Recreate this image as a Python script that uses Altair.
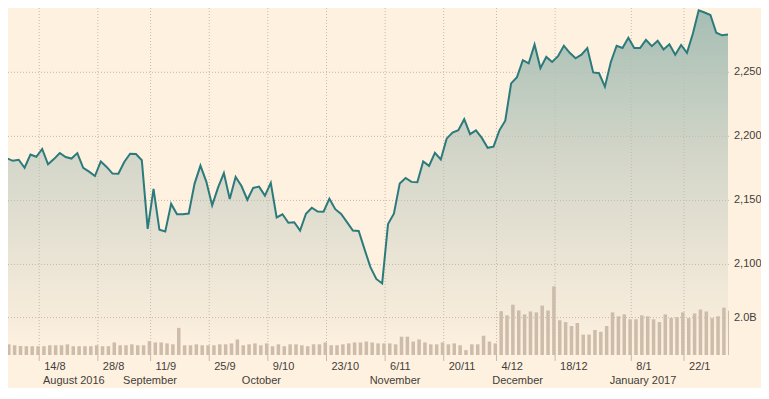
import altair as alt
import pandas as pd

# Daily closes, 5 Aug 2016 .. 1 Feb 2017 (trading days, in order)
close = [
    2182.87, 2180.89, 2181.74, 2175.49, 2185.79, 2184.05, 2190.15, 2178.15, 2182.22, 2187.02,
    2183.87, 2182.64, 2186.90, 2175.44, 2172.47, 2169.04, 2180.38, 2176.12, 2170.95, 2170.86,
    2179.98, 2186.48, 2186.16, 2181.30, 2127.81, 2159.04, 2127.02, 2125.77, 2147.26, 2139.16,
    2139.12, 2139.76, 2163.12, 2177.18, 2164.69, 2146.10, 2159.93, 2171.37, 2151.13, 2168.27,
    2161.20, 2150.49, 2159.73, 2160.77, 2153.74, 2163.66, 2136.73, 2139.18, 2132.55, 2132.98,
    2126.50, 2139.60, 2144.29, 2141.34, 2141.16, 2151.33, 2143.16, 2139.43, 2133.04, 2126.41,
    2126.15, 2111.72, 2097.94, 2088.66, 2085.18, 2131.52, 2139.56, 2163.26, 2167.48, 2164.45,
    2164.20, 2180.39, 2176.94, 2187.12, 2181.90, 2198.18, 2202.94, 2204.72, 2213.35, 2201.72,
    2204.66, 2198.81, 2191.08, 2191.95, 2204.71, 2212.23, 2241.35, 2246.19, 2259.53, 2256.96,
    2271.72, 2253.28, 2262.03, 2258.07, 2262.53, 2270.76, 2265.18, 2260.96, 2263.79, 2268.88,
    2249.92, 2249.26, 2238.83, 2257.83, 2270.75, 2269.00, 2276.98, 2268.90, 2268.90, 2275.32,
    2270.44, 2274.64, 2267.89, 2271.89, 2263.69, 2271.31, 2265.20, 2280.07, 2298.37, 2296.68,
    2294.69, 2280.90, 2278.87, 2279.55,
]

# Volume bars (billions), same days
volume = [
    0.57, 0.52, 0.48, 0.47, 0.47, 0.47, 0.47, 0.52, 0.52, 0.52,
    0.57, 0.47, 0.47, 0.47, 0.47, 0.52, 0.47, 0.47, 0.67, 0.52,
    0.52, 0.57, 0.52, 0.52, 0.74, 0.67, 0.67, 0.62, 0.57, 1.45,
    0.52, 0.52, 0.57, 0.52, 0.52, 0.52, 0.57, 0.57, 0.62, 0.83,
    0.52, 0.57, 0.62, 0.52, 0.62, 0.47, 0.57, 0.47, 0.57, 0.57,
    0.52, 0.47, 0.57, 0.57, 0.67, 0.52, 0.52, 0.57, 0.62, 0.67,
    0.67, 0.72, 0.67, 0.62, 0.62, 0.62, 0.57, 0.98, 0.98, 0.72,
    0.83, 0.67, 0.57, 0.57, 0.67, 0.57, 0.62, 0.52, 0.26, 0.57,
    0.57, 1.03, 0.72, 0.62, 2.34, 2.12, 2.69, 2.38, 2.17, 2.33,
    2.28, 2.64, 2.38, 3.67, 1.86, 1.76, 1.55, 1.71, 1.09, 1.09,
    1.34, 1.24, 1.55, 2.28, 2.07, 2.17, 1.91, 1.91, 2.12, 2.07,
    1.91, 1.76, 2.17, 1.98, 2.02, 2.28, 1.97, 2.22, 2.43, 2.33,
    1.97, 2.07, 2.53, 2.36,
]

# Week ticks (placed between Friday and Monday, in trading-day units)
tick_pos = [5.5, 15.5, 24.5, 34.5, 44.5, 54.5, 64.5, 74.5, 83.5, 93.5, 106.5, 115.5]
tick_labels = ["14/8", "28/8", "11/9", "25/9", "9/10", "23/10", "6/11", "20/11",
               "4/12", "18/12", "8/1", "22/1"]

month_pos = [11.4, 24.4, 43.4, 66.2, 87.1, 108.5]
month_labels = ["August 2016", "September", "October", "November", "December", "January 2017"]

price_grid = [2100, 2150, 2200, 2250]
price_grid_labels = ["2,100", "2,150", "2,200", "2,250"]
vol_grid = [2.0]
vol_grid_labels = ["2.0B"]

W, H = 721, 347
BG = "#fff1e0"
LINE = "#2b7a7c"
GRID = "#c4b9ac"
BAR = "#cdbcaa"
TXT = "#3f3d3a"
FONT = "Liberation Sans"
PMIN, PMAX = 2029.3, 2300.2

df = pd.DataFrame({"idx": list(range(len(close))), "close": close, "vol": volume})
ticks = pd.DataFrame({"pos": tick_pos, "label": tick_labels})
months = pd.DataFrame({"pos": month_pos, "label": month_labels})
pgrid = pd.DataFrame({"v": price_grid, "label": price_grid_labels})
vgrid = pd.DataFrame({"v": vol_grid, "label": vol_grid_labels})

xs = alt.Scale(domain=[0.17, 123.17], nice=False, zero=False)
ys = alt.Scale(domain=[PMIN, PMAX], nice=False, zero=False)
vs = alt.Scale(domain=[0, 18.55], nice=False, zero=True)

X = lambda f: alt.X(f, type="quantitative", scale=xs, axis=None)

area = alt.Chart(df).mark_area(
    clip=True,
    color=alt.Gradient(
        gradient="linear",
        stops=[
            alt.GradientStop(color="#a6beb4", offset=0),
            alt.GradientStop(color="#d3d6c9", offset=0.42),
            alt.GradientStop(color=BG, offset=1),
        ],
        x1=0, x2=0, y1=0, y2=1,
    ),
).encode(
    x=X("idx"),
    y=alt.Y("close:Q", scale=ys, axis=None, stack=None),
    y2=alt.datum(PMIN),
)

vgrid_lines = alt.Chart(ticks).mark_rule(color=GRID, strokeDash=[1, 2], strokeWidth=1).encode(
    x=X("pos")
)
hgrid_lines = alt.Chart(pgrid).mark_rule(color=GRID, strokeDash=[1, 2], strokeWidth=1).encode(
    y=alt.Y("v:Q", scale=ys, axis=None)
)
volgrid_lines = alt.Chart(vgrid).mark_rule(color=GRID, strokeDash=[1, 2], strokeWidth=1).encode(
    y=alt.Y("v:Q", scale=vs, axis=None)
)

bars = alt.Chart(df).transform_calculate(idx2="datum.idx + 0.6").mark_rect(
    color=BAR, clip=True
).encode(
    x=X("idx"),
    x2="idx2:Q",
    y=alt.Y("vol:Q", scale=vs, axis=None),
    y2=alt.datum(0),
)

line = alt.Chart(df).mark_line(color=LINE, strokeWidth=2, clip=True).encode(
    x=X("idx"), y=alt.Y("close:Q", scale=ys, axis=None)
)

tick_marks = alt.Chart(ticks).mark_rule(color=GRID, strokeWidth=1).encode(
    x=X("pos"), y=alt.value(H), y2=alt.value(H + 6)
)
tick_text = alt.Chart(ticks).mark_text(
    align="left", baseline="alphabetic", dx=5, font=FONT, fontSize=11, color=TXT
).encode(x=X("pos"), y=alt.value(H + 15), text="label:N")

month_text = alt.Chart(months).mark_text(
    align="center", baseline="alphabetic", font=FONT, fontSize=11, color=TXT
).encode(x=X("pos"), y=alt.value(H + 29), text="label:N")

price_labels = alt.Chart(pgrid).mark_text(
    align="left", baseline="middle", dx=5, font=FONT, fontSize=11, color=TXT
).encode(x=alt.value(W), y=alt.Y("v:Q", scale=ys, axis=None), text="label:N")

vol_labels = alt.Chart(vgrid).mark_text(
    align="left", baseline="middle", dx=5, font=FONT, fontSize=11, color=TXT
).encode(x=alt.value(W), y=alt.Y("v:Q", scale=vs, axis=None), text="label:N")

chart = alt.layer(
    area, vgrid_lines, hgrid_lines, volgrid_lines, bars, line,
    tick_marks, tick_text, month_text, price_labels, vol_labels,
).resolve_scale(y="independent").properties(
    width=W, height=H,
    background=BG,
    padding={"left": 0, "top": 0, "right": 32, "bottom": 33},
    autosize=alt.AutoSizeParams(type="none"),
).configure_view(stroke=None)

chart.save("out.html", embed_options={"renderer": "svg", "actions": False})
